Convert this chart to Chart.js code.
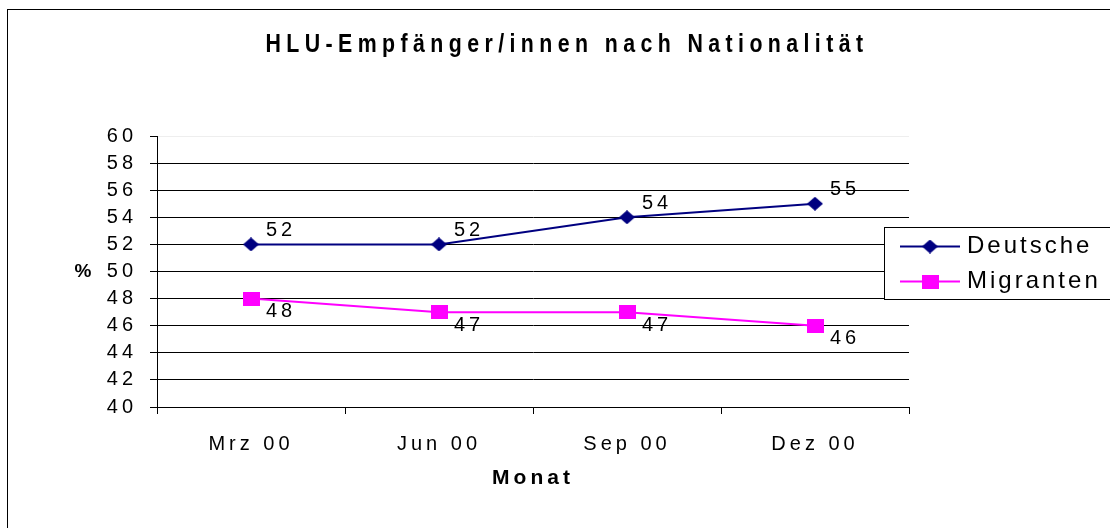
<!DOCTYPE html>
<html>
<head>
<meta charset="utf-8">
<script src="https://cdn.jsdelivr.net/npm/chart.js@4.4.1/dist/chart.umd.min.js"></script>
<style>
  html, body { margin: 0; padding: 0; background: #fff; }
  #wrap { width: 1110px; height: 528px; }
</style>
</head>
<body>
<div id="wrap"><canvas id="chart" width="1110" height="528"></canvas></div>
<script>
const chartTitle = 'HLU-Empfänger/innen nach Nationalität';
const months = ['Mrz 00', 'Jun 00', 'Sep 00', 'Dez 00'];
const deutsche = [52, 52, 54, 55];
const migranten = [48, 47, 47, 46];
const seriesNames = ['Deutsche', 'Migranten'];
const yMin = 40;
const yMax = 60;
const yStep = 2;
const xTitle = 'Monat';
const yTitle = '%';

const FONT = '"Liberation Sans", Arial, sans-serif';
const SPACING = '4px';

function markerImage(shape, w, h, color) {
    const c = document.createElement('canvas');
    c.width = w;
    c.height = h;
    const g = c.getContext('2d');
    g.fillStyle = color;
    if (shape === 'diamond') {
        g.beginPath();
        g.moveTo(w / 2, 0);
        g.lineTo(w, h / 2);
        g.lineTo(w / 2, h);
        g.lineTo(0, h / 2);
        g.closePath();
        g.fill();
    } else {
        g.fillRect(0, 0, w, h);
    }
    return c;
}

const navy = '#000080';
const magenta = '#ff00ff';
const diamond = markerImage('diamond', 16, 14, navy);
const square = markerImage('square', 17, 14, magenta);

const setSpacing = chart => { chart.ctx.letterSpacing = SPACING; };

const ctx = document.getElementById('chart');

new Chart(ctx, {
    type: 'line',
    data: {
        labels: months,
        datasets: [
            {
                label: seriesNames[0],
                data: deutsche,
                borderColor: navy,
                backgroundColor: navy,
                borderWidth: 2,
                pointStyle: diamond,
                labelDy: -14,
            },
            {
                label: seriesNames[1],
                data: migranten,
                borderColor: magenta,
                backgroundColor: magenta,
                borderWidth: 2,
                pointStyle: square,
                labelDy: 13,
            },
        ],
    },
    options: {
        responsive: false,
        animation: false,
        layout: { padding: { left: 0, right: 201, top: 136, bottom: 0 } },
        scales: {
            x: {
                offset: true,
                grid: { drawOnChartArea: false, offset: true, tickLength: 7, color: '#000', tickColor: '#000' },
                border: { color: '#000', width: 1 },
                ticks: { font: { size: 20, family: FONT }, color: '#000', padding: 18 },
                title: {
                    display: true,
                    text: xTitle,
                    font: { size: 21, weight: 'bold', family: FONT },
                    color: '#000',
                    padding: { top: 0, bottom: 37 },
                },
                afterFit(scale) { scale.height = 121; },
            },
            y: {
                min: yMin,
                max: yMax,
                grid: {
                    tickLength: 7,
                    tickColor: '#000',
                    color: c => (c.tick && c.tick.value === yMax ? '#eeeeee' : '#000'),
                },
                border: { color: '#000', width: 1 },
                ticks: { stepSize: yStep, font: { size: 20, family: FONT }, color: '#000', padding: 13 },
                afterFit(scale) { scale.width = 157; },
            },
        },
        plugins: {
            legend: { display: false },
            title: { display: false },
            tooltip: { enabled: false },
        },
    },
    plugins: [
        {
            id: 'spacing',
            beforeInit: setSpacing,
            beforeUpdate: setSpacing,
            beforeLayout: setSpacing,
            beforeDraw(chart) {
                const { ctx } = chart;
                ctx.save();
                ctx.fillStyle = '#fff';
                ctx.fillRect(0, 0, chart.width, chart.height);
                ctx.strokeStyle = '#000';
                ctx.lineWidth = 1;
                ctx.strokeRect(7.5, 9.5, chart.width + 20, chart.height + 20);
                ctx.restore();
                setSpacing(chart);
            },
        },
        {
            id: 'valueLabels',
            afterDatasetsDraw(chart) {
                const { ctx } = chart;
                ctx.save();
                ctx.font = '20px ' + FONT;
                ctx.fillStyle = '#000';
                ctx.textAlign = 'left';
                ctx.textBaseline = 'middle';
                chart.data.datasets.forEach((ds, i) => {
                    chart.getDatasetMeta(i).data.forEach((pt, j) => {
                        ctx.fillText(String(ds.data[j]), pt.x + 15, pt.y + ds.labelDy);
                    });
                });
                ctx.restore();
            },
        },
        {
            id: 'texts',
            afterDraw(chart) {
                const { ctx, chartArea } = chart;
                ctx.save();
                ctx.fillStyle = '#000';
                ctx.textBaseline = 'middle';
                ctx.textAlign = 'center';

                // title: condensed bold with wide tracking
                ctx.save();
                ctx.translate(567, 45);
                ctx.scale(0.82, 1);
                ctx.letterSpacing = '6.6px';
                ctx.font = 'bold 26px ' + FONT;
                ctx.fillText(chartTitle, 0, 0);
                ctx.restore();

                ctx.letterSpacing = SPACING;
                ctx.font = 'bold 19px ' + FONT;
                ctx.fillText(yTitle, 85, (chartArea.top + chartArea.bottom) / 2);

                // legend box
                const lx = 884.5, ly = 227.5;
                ctx.fillStyle = '#fff';
                ctx.fillRect(lx, ly, 240, 72);
                ctx.strokeStyle = '#000';
                ctx.lineWidth = 1;
                ctx.strokeRect(lx, ly, 240, 72);

                ctx.textAlign = 'left';
                ctx.letterSpacing = '3px';
                ctx.font = '24px ' + FONT;
                chart.data.datasets.forEach((ds, i) => {
                    const y = 246.5 + i * 35;
                    ctx.strokeStyle = ds.borderColor;
                    ctx.lineWidth = 2;
                    ctx.beginPath();
                    ctx.moveTo(900, y);
                    ctx.lineTo(960, y);
                    ctx.stroke();
                    const img = ds.pointStyle;
                    ctx.drawImage(img, 930 - img.width / 2, y - img.height / 2);
                    ctx.fillStyle = '#000';
                    ctx.fillText(ds.label, 967, y);
                });
                ctx.restore();
            },
        },
    ],
});
</script>
</body>
</html>
